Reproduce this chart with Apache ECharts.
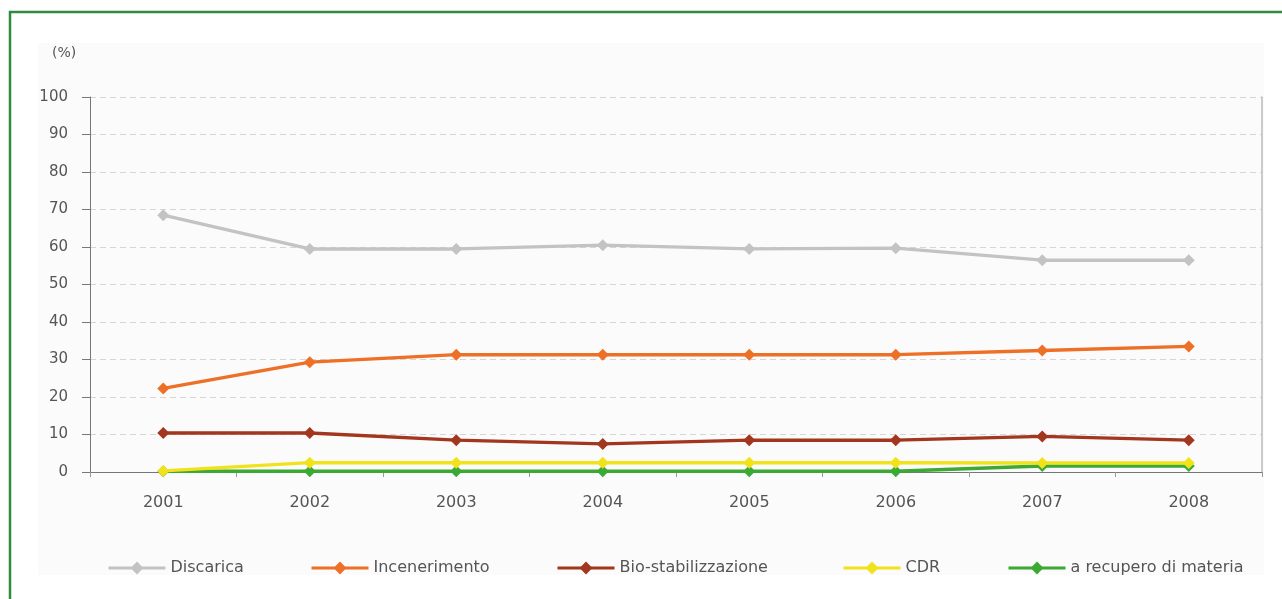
<!DOCTYPE html>
<html>
<head>
<meta charset="utf-8">
<title>Destinazione rifiuti</title>
<script src="https://cdn.jsdelivr.net/npm/echarts@6/dist/echarts.min.js"></script>
<style>
  html, body { margin: 0; padding: 0; background: #fff; }
  #chart { width: 1282px; height: 599px; }
</style>
</head>
<body>
<div id="chart"></div>
<script>
// dati
const anni = ["2001", "2002", "2003", "2004", "2005", "2006", "2007", "2008"];
const discarica = [68.5, 59.5, 59.5, 60.5, 59.5, 59.7, 56.5, 56.5];
const incenerimento = [22.3, 29.3, 31.3, 31.3, 31.3, 31.3, 32.4, 33.5];
const bioStabilizzazione = [10.4, 10.4, 8.5, 7.5, 8.5, 8.5, 9.5, 8.5];
const cdr = [0.3, 2.5, 2.5, 2.5, 2.5, 2.5, 2.4, 2.4];
const recuperoMateria = [0.2, 0.2, 0.2, 0.2, 0.2, 0.2, 1.6, 1.6];

const nomi = ["Discarica", "Incenerimento", "Bio-stabilizzazione", "CDR", "a recupero di materia"];
const colori = ["#c3c3c3", "#ee6f26", "#a2361e", "#f2e21c", "#3ba933"];
const valori = [discarica, incenerimento, bioStabilizzazione, cdr, recuperoMateria];
const legendaX = [102, 305, 551, 837, 1002];

const font = "'DejaVu Sans', 'Liberation Sans', sans-serif";
const grigio = "#555";

let chart = echarts.init(document.getElementById("chart"));

let option = {
  animation: false,
  backgroundColor: "#fff",
  textStyle: { fontFamily: font },
  graphic: [
    // pannello grigio chiaro
    {
      type: "rect", z: -10,
      shape: { x: 38, y: 43, width: 1226, height: 532 },
      style: { fill: "#fbfbfb" }
    },
    // cornice verde
    {
      type: "rect", z: -5,
      shape: { x: 10, y: 12, width: 1300, height: 700 },
      style: { fill: "none", stroke: "#2f8c3f", lineWidth: 2.5 }
    },
    {
      type: "text", left: 52, top: 46,
      style: { text: "(%)", fill: grigio, font: "14px " + font }
    }
  ],
  grid: { left: 90, right: 20, top: 97, bottom: 127 },
  legend: nomi.map((n, i) => ({
    data: [n],
    left: legendaX[i],
    top: 555,
    itemWidth: 57,
    itemHeight: 16,
    itemGap: 8,
    lineStyle: { width: 3 },
    textStyle: { color: grigio, fontSize: 16, fontFamily: font }
  })),
  xAxis: {
    type: "category",
    data: anni,
    boundaryGap: true,
    axisLine: { lineStyle: { color: "#777", width: 1 } },
    axisTick: { show: true, length: 5, lineStyle: { color: "#999" } },
    axisLabel: { color: grigio, fontSize: 16, margin: 23 }
  },
  yAxis: [
    {
      type: "value",
      min: 0, max: 100, interval: 10,
      axisLine: { show: true, lineStyle: { color: "#777", width: 1 } },
      axisTick: { show: true, length: 8, lineStyle: { color: "#777" } },
      axisLabel: { color: grigio, fontSize: 15, margin: 22 },
      splitLine: { lineStyle: { color: "#d6d6d6", type: [6, 4], width: 1 } }
    },
    {
      type: "value",
      position: "right",
      min: 0, max: 100, interval: 10,
      axisLine: { show: true, lineStyle: { color: "#bbb", width: 1.5 } },
      axisTick: { show: false },
      axisLabel: { show: false },
      splitLine: { show: false }
    }
  ],
  series: nomi.map((n, i) => ({
    name: n,
    type: "line",
    data: valori[i],
    symbol: "diamond",
    symbolSize: 12,
    z: 10 - i,
    lineStyle: { color: colori[i], width: 3.5 },
    itemStyle: { color: colori[i] }
  })).reverse()
};

chart.setOption(option);
</script>
</body>
</html>
